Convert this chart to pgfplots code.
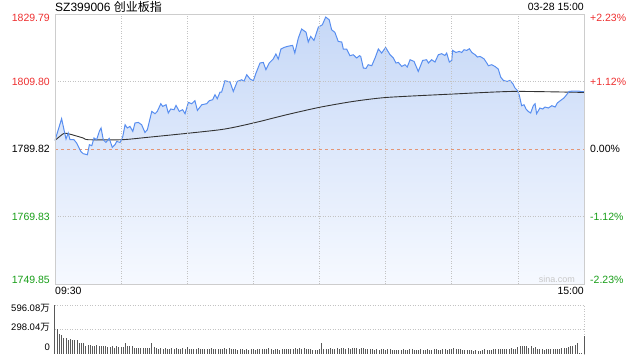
\documentclass[border=0pt]{standalone}
\usepackage{pgfplots}
\usepackage{pgfplotstable}
\pgfplotsset{compat=1.18}
\usepackage{fontspec}
\setmainfont{Liberation Sans}
\newfontfamily\cjk{Noto Sans CJK SC}
\definecolor{upred}{RGB}{238,48,48}
\definecolor{downgreen}{RGB}{24,158,24}
\definecolor{linecol}{RGB}{88,142,240}
\definecolor{gridc}{RGB}{195,195,195}
\definecolor{framec}{RGB}{205,205,205}
\definecolor{zeroc}{RGB}{228,150,118}
\definecolor{fillTop}{RGB}{198,216,247}
\definecolor{fillBot}{RGB}{246,249,255}
\definecolor{wm}{RGB}{200,200,200}
\tikzset{
  lbl/.style={inner sep=0pt, font=\fontsize{10.5}{12}\selectfont},
  vl/.style={inner sep=0pt, font=\fontsize{9.5}{11}\selectfont, anchor=east, xshift=-5pt},
}

\pgfplotstableread{
m p
0 1792.37
3.0 1798.79
5.0 1792.78
6.0 1794.56
6.8 1792.57
8.6 1792.57
9.8 1791.60
11.7 1789.11
12.8 1788.43
14.7 1788.13
15.6 1791.09
16.7 1790.80
17.7 1793.08
18.9 1792.57
20.1 1795.03
20.9 1796.04
21.9 1792.57
23.1 1791.77
24.6 1792.96
26.0 1790.29
27.2 1791.09
28.0 1792.07
29.5 1791.77
30.7 1793.37
31.8 1797.01
32.8 1796.04
34.0 1796.51
35.3 1795.03
36.3 1797.52
37.8 1797.69
39.3 1797.01
40.8 1794.73
41.9 1795.53
43.9 1800.95
45.4 1800.27
46.4 1800.95
48.0 1803.23
48.9 1802.43
50.4 1802.93
51.4 1800.48
52.5 1801.66
54.0 1801.45
54.9 1802.73
56.4 1800.95
57.9 1801.45
59.0 1800.27
60.5 1803.61
62.0 1803.23
63.5 1804.12
64.6 1801.25
66.6 1802.93
68.8 1803.23
70.0 1804.12
71.5 1804.41
72.6 1805.89
73.6 1804.71
74.9 1806.69
75.6 1806.69
77.1 1810.04
79.4 1809.65
80.9 1806.87
82.7 1809.83
84.7 1810.33
85.7 1809.83
87.0 1811.81
88.5 1810.54
90.0 1810.04
91.2 1812.32
93.0 1815.28
94.5 1815.45
95.7 1813.29
97.2 1815.28
99.0 1816.46
100.2 1817.94
101.3 1816.46
102.5 1819.42
103.9 1819.89
105.4 1820.19
106.9 1820.40
107.8 1820.50
108.8 1818.24
110.4 1822.68
111.9 1825.34
113.9 1824.39
114.9 1821.49
116.0 1823.15
117.5 1821.97
119.5 1825.93
121.3 1826.61
122.8 1828.89
124.4 1828.09
125.5 1825.13
127.0 1824.33
128.5 1821.67
130.1 1821.49
130.8 1819.42
132.3 1819.42
133.8 1817.44
135.3 1817.73
136.9 1816.76
138.1 1817.44
138.7 1817.23
139.9 1813.80
141.1 1813.68
142.1 1814.77
143.7 1814.48
145.2 1816.76
146.7 1819.42
148.2 1818.24
150.0 1819.89
152.0 1817.73
153.5 1816.76
154.7 1815.28
155.8 1815.45
157.3 1814.27
158.8 1814.77
159.8 1814.09
161.1 1816.25
162.9 1815.75
164.8 1812.79
166.8 1816.05
168.6 1816.25
169.4 1815.28
170.9 1816.25
172.4 1815.57
173.9 1817.73
175.4 1818.03
176.9 1817.53
177.7 1818.24
178.9 1815.57
180.0 1816.05
180.4 1819.01
181.9 1818.41
183.4 1818.71
184.5 1818.41
185.6 1819.21
186.8 1819.01
188.0 1819.51
189.1 1818.41
190.6 1817.73
191.6 1817.05
192.8 1817.23
194.6 1816.55
195.9 1815.28
196.6 1814.48
198.1 1814.77
199.6 1814.27
201.1 1813.50
202.2 1811.13
203.4 1810.13
205.2 1809.83
206.4 1810.13
207.7 1809.15
208.7 1807.88
209.9 1807.08
210.7 1805.60
211.7 1802.64
212.8 1802.93
213.7 1801.66
214.7 1800.95
215.8 1800.48
217.0 1802.64
217.8 1803.23
218.5 1800.27
220.0 1801.96
221.3 1801.66
222.3 1802.25
223.8 1801.96
225.4 1802.64
226.9 1802.25
227.9 1803.44
229.4 1804.21
230.9 1804.92
232.1 1805.89
233.3 1806.87
235.2 1806.99
237.4 1806.99
239.2 1806.78
240 1806.78
}\pricedata

\pgfplotstableread{
m p
0 1792.37
3.8 1794.35
6.0 1794.35
12.8 1793.08
15.1 1792.57
30.3 1792.57
41.6 1793.25
74.9 1795.53
90.0 1797.52
105.1 1799.97
120.2 1802.19
135.3 1803.91
150.5 1805.09
180.6 1806.10
207.9 1806.87
240 1806.57
}\avgdata

\pgfplotstableread{
m v
0 596.08
1 296
2 238
3 226
4 190
5 190
6 167
7 175
8 167
9 167
10 167
11 127
12 127
13 127
14 99
15 111
16 103
17 99
18 91
19 111
20 99
21 91
22 91
23 91
24 80
25 87
26 91
27 71
28 91
29 80
30 84
31 76
32 127
33 99
34 91
35 91
36 71
37 71
38 66
39 71
40 68
41 72
42 66
43 70
44 127
45 75
46 66
47 62
48 70
49 58
50 68
51 60
52 56
53 64
54 52
55 66
56 60
57 58
58 70
59 62
60 80
61 62
62 58
63 60
64 54
65 66
66 58
67 62
68 52
69 60
70 56
71 64
72 58
73 52
74 60
75 56
76 62
77 66
78 58
79 64
80 54
81 60
82 56
83 50
84 58
85 52
86 46
87 56
88 50
89 58
90 54
91 48
92 60
93 56
94 62
95 58
96 52
97 64
98 56
99 50
100 58
101 54
102 48
103 56
104 60
105 52
106 58
107 62
108 56
109 68
110 58
111 64
112 52
113 70
114 60
115 56
116 62
117 50
118 44
119 48
120 56
121 127
122 62
123 58
124 60
125 66
126 58
127 62
128 70
129 60
130 64
131 68
132 62
133 70
134 60
135 66
136 72
137 64
138 58
139 70
140 72
141 62
142 56
143 52
144 58
145 48
146 54
147 44
148 56
149 52
150 46
151 58
152 54
153 50
154 44
155 48
156 46
157 44
158 52
159 48
160 46
161 56
162 52
163 44
164 50
165 48
166 54
167 50
168 46
169 56
170 50
171 44
172 52
173 56
174 50
175 46
176 52
177 58
178 48
179 54
180 56
181 72
182 60
183 60
184 60
185 48
186 50
187 48
188 50
189 46
190 38
191 44
192 36
193 32
194 42
195 52
196 50
197 44
198 46
199 56
200 58
201 60
202 60
203 58
204 62
205 56
206 60
207 68
208 58
209 62
210 76
211 88
212 92
213 88
214 95
215 72
216 90
217 66
218 78
219 60
220 52
221 56
222 50
223 56
224 60
225 58
226 60
227 56
228 60
229 58
230 64
231 66
232 72
233 80
234 88
235 99
236 111
237 127
238 5
239 5
240 210
}\voldata

\begin{document}
\begin{tikzpicture}
\useasboundingbox (0,0) rectangle (640pt,-360pt);
\begin{axis}[
  at={(55pt,-14pt)}, anchor=north west,
  width=529pt, height=270pt, scale only axis,
  xmin=0, xmax=240, ymin=1749.85, ymax=1829.79,
  xtick={30,60,...,210}, ytick={1769.83,1809.80},
  xticklabels={}, yticklabels={},
  major tick length=0pt,
  xmajorgrids, ymajorgrids,
  grid style={draw=gridc, line width=0.6pt, dash pattern=on 1pt off 1.5pt},
  axis line style={draw=framec, line width=0.8pt},
  axis on top,
  clip=false,
]
\addplot[draw=none, top color=fillTop, bottom color=fillBot] table[x=m, y=p] {\pricedata} -- (axis cs:240,1749.85) -- (axis cs:0,1749.85) -- cycle;
\addplot[zeroc, line width=0.8pt, dash pattern=on 3pt off 3pt] coordinates {(0,1789.82) (240,1789.82)};
\addplot[black!80, line width=0.9pt, smooth, tension=0.4] table[x=m, y=p] {\avgdata};
\addplot[linecol, line width=1pt] table[x=m, y=p] {\pricedata};

% left labels
\node[lbl, anchor=north east, text=upred, xshift=-5pt] at (axis cs:0,1829.79) {1829.79};
\node[lbl, anchor=east, text=upred, xshift=-5pt] at (axis cs:0,1809.80) {1809.80};
\node[lbl, anchor=east, text=black, xshift=-5pt] at (axis cs:0,1789.82) {1789.82};
\node[lbl, anchor=east, text=downgreen, xshift=-5pt] at (axis cs:0,1769.83) {1769.83};
\node[lbl, anchor=south east, text=downgreen, xshift=-5pt] at (axis cs:0,1749.85) {1749.85};
% right labels
\node[lbl, anchor=north west, text=upred, xshift=6pt] at (axis cs:240,1829.79) {+2.23\%};
\node[lbl, anchor=west, text=upred, xshift=6pt] at (axis cs:240,1809.80) {+1.12\%};
\node[lbl, anchor=west, text=black, xshift=6pt] at (axis cs:240,1789.82) {0.00\%};
\node[lbl, anchor=west, text=downgreen, xshift=6pt] at (axis cs:240,1769.83) {-1.12\%};
\node[lbl, anchor=south west, text=downgreen, xshift=6pt] at (axis cs:240,1749.85) {-2.23\%};
% time labels
\node[lbl, anchor=north west, yshift=-3pt] at (axis cs:0,1749.85) {09:30};
\node[lbl, anchor=north east, yshift=-3pt] at (axis cs:240,1749.85) {15:00};
% title and date
\node[inner sep=0pt, anchor=base west, font=\fontsize{12}{14}\selectfont, yshift=3pt] at (rel axis cs:0,1) {SZ399006 {\cjk 创业板指}};
\node[lbl, anchor=base east, yshift=3.5pt] at (rel axis cs:1,1) {03-28 15:00};
% watermark
\node[inner sep=0pt, anchor=south east, font=\fontsize{9}{10}\selectfont, text=wm, yshift=1pt] at (axis cs:236,1749.85) {sina.com};
\end{axis}

\begin{axis}[
  at={(55pt,-305pt)}, anchor=north west,
  width=529pt, height=48.6pt, scale only axis,
  xmin=0, xmax=240, ymin=0, ymax=596.08,
  hide axis, clip=false,
]
\draw[gridc, line width=0.6pt, dash pattern=on 1pt off 1.5pt] (axis cs:0,596.08) -- (axis cs:240,596.08) -- (axis cs:240,0);
\draw[gridc, line width=0.6pt, dash pattern=on 1pt off 1.5pt] (axis cs:0,298.04) -- (axis cs:240,298.04);
\addplot[ycomb, draw=black!65, line width=1pt, mark=none] table[x=m, y=v] {\voldata};
\node[vl, yshift=-3pt] at (axis cs:0,596.08) {596.08{\cjk 万}};
\node[vl, yshift=2pt] at (axis cs:0,298.04) {298.04{\cjk 万}};
\node[vl, yshift=6pt] at (axis cs:0,0) {0};
\end{axis}
\end{tikzpicture}
\end{document}
